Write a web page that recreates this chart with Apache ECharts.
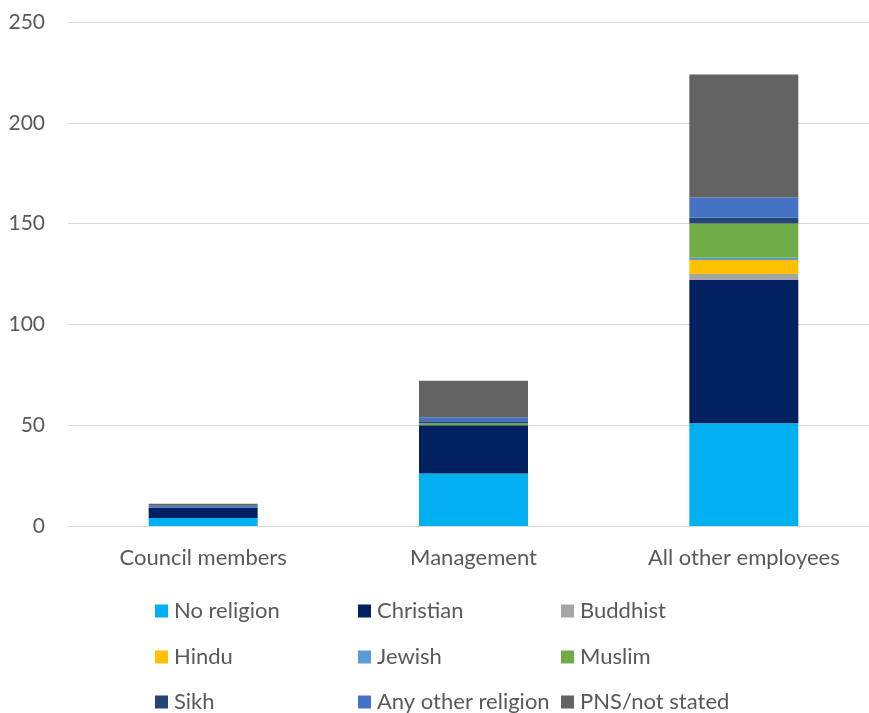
<!DOCTYPE html>
<html>
<head>
<meta charset="utf-8">
<script src="https://cdn.jsdelivr.net/npm/echarts@6/dist/echarts.min.js"></script>
<style>
  html, body { margin: 0; padding: 0; background: #fff; }
  #chart { width: 869px; height: 713px; }
</style>
</head>
<body>
<div id="chart"></div>
<script>
// Staff headcount by religion, stacked per group
const categories = ['Council members', 'Management', 'All other employees'];

const noReligion   = [4, 26, 51];
const christian    = [5, 24, 71];
const buddhist     = [0, 0, 3];
const hindu        = [0, 0, 7];
const jewish       = [0, 0, 1];
const muslim       = [0, 1, 17];
const sikh         = [0, 1, 3];
const anyOther     = [1, 2, 10];
const pnsNotStated = [1, 18, 61];

const seriesNames = ['No religion', 'Christian', 'Buddhist', 'Hindu', 'Jewish',
                     'Muslim', 'Sikh', 'Any other religion', 'PNS/not stated'];
const seriesData = [noReligion, christian, buddhist, hindu, jewish,
                    muslim, sikh, anyOther, pnsNotStated];
const colors = ['#00B0F0', '#002060', '#A5A5A5', '#FFC000', '#5B9BD5',
                '#70AD47', '#264478', '#4472C4', '#636363'];

const yTicks = { min: 0, max: 250, interval: 50 };

const font = 'Lato, "Open Sans", sans-serif';
const textColor = '#595959';

const chart = echarts.init(document.getElementById('chart'), null, { renderer: 'canvas' });

// Legend laid out as a 3x3 grid: one legend component per entry
const legendCols = [155, 358, 561];
const legendRows = [600, 646, 691];
const legends = seriesNames.map((name, i) => ({
  data: [name],
  left: legendCols[i % 3],
  top: legendRows[Math.floor(i / 3)],
  padding: 0,
  itemWidth: 13,
  itemHeight: 13,
  itemGap: 0,
  icon: 'rect',
  selectedMode: false,
  textStyle: { color: textColor, fontSize: 22, fontFamily: font, padding: [0, 0, 0, 1] }
}));

chart.setOption({
  animation: false,
  color: colors,
  grid: { left: 68, top: 22, width: 811, height: 504, containLabel: false, outerBoundsMode: 'none' },
  legend: legends,
  xAxis: {
    type: 'category',
    data: categories,
    axisLine: { lineStyle: { color: '#D9D9D9', width: 1 } },
    axisTick: { show: false },
    axisLabel: { color: textColor, fontSize: 22, fontFamily: font, margin: 21 }
  },
  yAxis: {
    type: 'value',
    min: yTicks.min,
    max: yTicks.max,
    interval: yTicks.interval,
    axisLine: { show: false },
    axisTick: { show: false },
    splitLine: { lineStyle: { color: '#D9D9D9', width: 1 } },
    axisLabel: { color: textColor, fontSize: 21, fontFamily: font, margin: 23 }
  },
  series: seriesNames.map((name, i) => ({
    name: name,
    type: 'bar',
    stack: 'total',
    barWidth: 109,
    data: seriesData[i],
    itemStyle: { color: colors[i] }
  }))
});
</script>
</body>
</html>
